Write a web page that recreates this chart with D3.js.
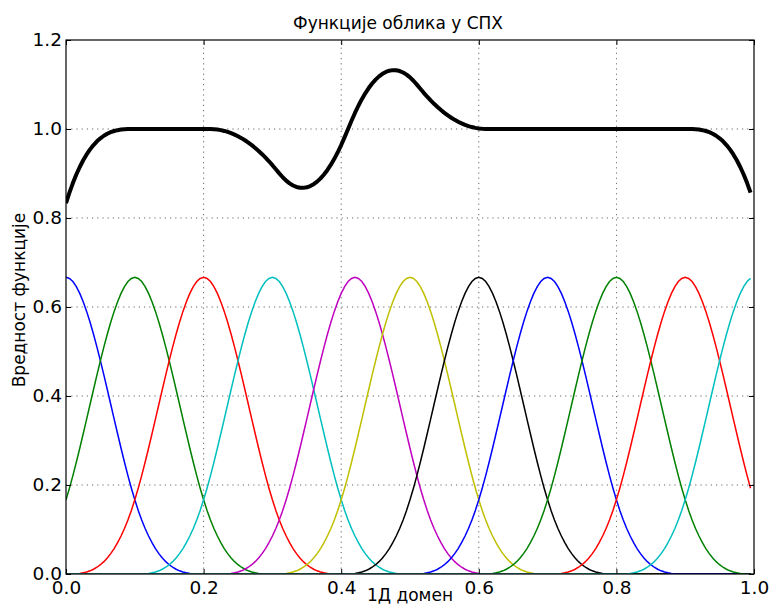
<!DOCTYPE html>
<html>
<head>
<meta charset="utf-8">
<script src="https://cdn.jsdelivr.net/npm/d3@7/dist/d3.min.js"></script>
<style>
  html, body { margin: 0; padding: 0; background: #fff; }
  svg text { font-family: "DejaVu Sans", sans-serif; fill: #000; }
</style>
</head>
<body>
<svg id="chart" width="772" height="605"></svg>
<script>
// Particle positions along the 1D domain and the smoothing length
const particles = [0.0, 0.1, 0.2, 0.3, 0.42, 0.5, 0.6, 0.7, 0.8, 0.9, 1.0];
const smoothingLength = 0.1;
const sampleStart = 0.0, sampleEnd = 0.995, sampleStep = 0.005;
const lineColors = ["#0000ff", "#008000", "#ff0000", "#00bfbf", "#bf00bf", "#bfbf00", "#000000"];
const xTicks = [0.0, 0.2, 0.4, 0.6, 0.8, 1.0];
const yTicks = [0.0, 0.2, 0.4, 0.6, 0.8, 1.0, 1.2];
const titleText = "Функције облика у СПХ";
const xLabelText = "1Д домен";
const yLabelText = "Вредност функције";

// Cubic B-spline kernel (dimensionless, peak 2/3)
function kernel(q) {
  q = Math.abs(q);
  if (q < 1) return 2 / 3 - q * q + 0.5 * q * q * q;
  if (q < 2) return Math.pow(2 - q, 3) / 6;
  return 0;
}

const svg = d3.select("#chart");
const margin = { left: 66, top: 40, right: 18, bottom: 31 };
const W = 772, H = 605;
const x = d3.scaleLinear().domain([0, 1]).range([margin.left, W - margin.right]);
const y = d3.scaleLinear().domain([0, 1.2]).range([H - margin.bottom, margin.top]);

const xs = d3.range(sampleStart, sampleEnd + sampleStep / 2, sampleStep);
const shapes = particles.map(p => xs.map(v => [v, kernel((v - p) / smoothingLength)]));
const total = xs.map((v, i) => [v, d3.sum(shapes, s => s[i][1])]);

svg.append("defs").append("clipPath").attr("id", "plot")
  .append("rect").attr("x", x(0)).attr("y", y(1.2))
  .attr("width", x(1) - x(0)).attr("height", y(0) - y(1.2));

// Dotted grid
const grid = svg.append("g");
const gridStyle = sel => sel.attr("stroke", "#000").attr("stroke-width", 0.8)
  .attr("stroke-dasharray", "1.2,4").attr("opacity", 0.75);
grid.selectAll("line.gx").data(xTicks.slice(1, -1)).join("line")
  .attr("x1", d => x(d)).attr("x2", d => x(d))
  .attr("y1", y(0)).attr("y2", y(1.2)).call(gridStyle);
grid.selectAll("line.gy").data(yTicks.slice(1, -1)).join("line")
  .attr("x1", x(0)).attr("x2", x(1))
  .attr("y1", d => y(d)).attr("y2", d => y(d)).call(gridStyle);

const line = d3.line().x(d => x(d[0])).y(d => y(d[1]));
const plot = svg.append("g").attr("clip-path", "url(#plot)");
plot.selectAll("path.shape").data(shapes).join("path")
  .attr("class", "shape")
  .attr("d", line)
  .attr("fill", "none")
  .attr("stroke", (d, i) => lineColors[i % lineColors.length])
  .attr("stroke-width", 1.5);
plot.append("path").datum(total)
  .attr("d", line).attr("fill", "none")
  .attr("stroke", "#000").attr("stroke-width", 4).attr("stroke-linejoin", "round");

// Axes with inward ticks on all sides
const tickLen = 5;
const fmt = d3.format(".1f");
const axB = svg.append("g").attr("transform", `translate(0,${y(0)})`)
  .call(d3.axisBottom(x).tickValues(xTicks).tickFormat(fmt).tickSizeInner(-tickLen).tickSizeOuter(0).tickPadding(7));
const axT = svg.append("g").attr("transform", `translate(0,${y(1.2)})`)
  .call(d3.axisTop(x).tickValues(xTicks).tickFormat("").tickSizeInner(-tickLen).tickSizeOuter(0));
const axL = svg.append("g").attr("transform", `translate(${x(0)},0)`)
  .call(d3.axisLeft(y).tickValues(yTicks).tickFormat(fmt).tickSizeInner(-tickLen).tickSizeOuter(0).tickPadding(4));
const axR = svg.append("g").attr("transform", `translate(${x(1)},0)`)
  .call(d3.axisRight(y).tickValues(yTicks).tickFormat("").tickSizeInner(-tickLen).tickSizeOuter(0));
[axB, axT, axL, axR].forEach(a => {
  a.select(".domain").remove();
  a.selectAll(".tick line").attr("stroke", "#000").attr("stroke-width", 1);
  a.selectAll("text").attr("font-size", 18.5).attr("font-family", "DejaVu Sans, sans-serif").attr("fill", "#000");
});
axB.selectAll("text").attr("dy", "0.71em");

svg.append("rect").attr("x", x(0)).attr("y", y(1.2))
  .attr("width", x(1) - x(0)).attr("height", y(0) - y(1.2))
  .attr("fill", "none").attr("stroke", "#000").attr("stroke-width", 1.2);

svg.append("text").attr("x", 398).attr("y", 29)
  .attr("text-anchor", "middle").attr("font-size", 17).text(titleText);
svg.append("text").attr("x", (x(0) + x(1)) / 2).attr("y", 601)
  .attr("text-anchor", "middle").attr("font-size", 17).text(xLabelText);
svg.append("text").attr("transform", `translate(25,300) rotate(-90)`)
  .attr("text-anchor", "middle").attr("font-size", 17).text(yLabelText);
</script>
</body>
</html>
